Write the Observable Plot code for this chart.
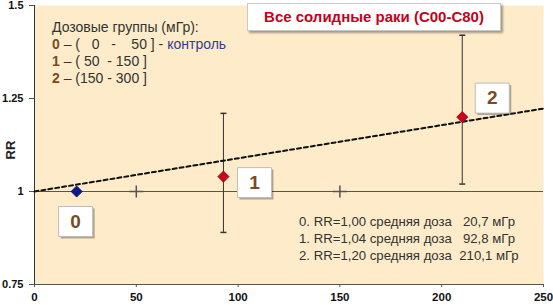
<!DOCTYPE html>
<html>
<head>
<meta charset="utf-8">
<script src="https://cdn.jsdelivr.net/npm/d3@7"></script>
<script src="https://cdn.jsdelivr.net/npm/@observablehq/plot@0.6"></script>
<style>
  html, body { margin: 0; padding: 0; background: #fff; }
  #wrap { position: relative; width: 553px; height: 305px; font-family: "Liberation Sans", Arial, sans-serif; }
  #wrap svg { position: absolute; left: 0; top: 0; }
  .ov { position: absolute; white-space: pre; }
  #legend { left: 52px; top: 19px; font-size: 14px; line-height: 17px; color: #333; }
  #legend b { color: #7A4B22; }
  #legend .blue { color: #2E3F8F; }
  #title { left: 247px; top: 3px; width: 252px; height: 26px; background: #fff; border: 1px solid #c8c8c8;
           box-shadow: 2px 2px 2px rgba(0,0,0,0.35); color: #C8001A; font-weight: bold; font-size: 15px;
           line-height: 26px; text-align: center; }
  #stats { left: 299px; top: 213px; font-size: 13.2px; line-height: 17px; color: #333; }
  #ylab { left: 10px; top: 150px; font-size: 13px; font-weight: bold; color: #222;
          transform: translate(-50%, -50%) rotate(-90deg); }
</style>
</head>
<body>
<div id="wrap"></div>
<script>
// ---- data ----
const groupLabels = ["0", "1", "2"];
const meanDose = [20.7, 92.8, 210.1];
const rrValues = [1.00, 1.04, 1.20];
const ciLow = [null, 0.89, 1.02];
const ciHigh = [null, 1.21, 1.42];
const trendDose = [0, 250];
const trendRR = [1.0, 1.223];
const crossDose = [50, 150];
const xTicks = [0, 50, 100, 150, 200, 250];
const yTicks = [0.75, 1, 1.25, 1.5];
const yTickLabels = ["0.75", "1", "1.25", "1.5"];
const legendTitle = "Дозовые группы (мГр):";
const legendRanges = ["(   0   -    50 ]", "( 50  - 150 ]", "(150 - 300 ]"];
const controlText = "контроль";
const chartTitle = "Все солидные раки (C00-C80)";
const statLines = [
  "0. RR=1,00 средняя доза   20,7 мГр",
  "1. RR=1,04 средняя доза   92,8 мГр",
  "2. RR=1,20 средняя доза  210,1 мГр"
];

const points = groupLabels.map((g, i) => ({g, x: meanDose[i], rr: rrValues[i], lo: ciLow[i], hi: ciHigh[i]}));
const bars = points.filter(d => d.lo != null);
const caps = bars.flatMap(d => [{x: d.x, y: d.lo}, {x: d.x, y: d.hi}]);
const trend = trendDose.map((x, i) => ({x, y: trendRR[i]}));

// custom symbols
const boxSym = {draw(ctx) { ctx.rect(-17, -15, 34, 30); }};
const capSym = {draw(ctx) { ctx.moveTo(-3, 0); ctx.lineTo(3, 0); }};
const vSym = {draw(ctx) { ctx.moveTo(0, -6); ctx.lineTo(0, 6); ctx.moveTo(-7, 0); ctx.lineTo(7, 0); }};

const boxOffsets = [[-1, 30], [31, 6], [30, -19]];
const labelMarks = points.flatMap((p, i) => [
  Plot.dot([p], {x: "x", y: "rr", symbol: boxSym, fill: "#000", fillOpacity: 0.3, stroke: null, dx: boxOffsets[i][0] + 2, dy: boxOffsets[i][1] + 2}),
  Plot.dot([p], {x: "x", y: "rr", symbol: boxSym, fill: "#fff", stroke: "#bdbdbd", strokeWidth: 1, dx: boxOffsets[i][0], dy: boxOffsets[i][1]}),
  Plot.text([p], {x: "x", y: "rr", text: "g", fill: "#7A4B22", fontSize: 19, fontWeight: "bold", dx: boxOffsets[i][0], dy: boxOffsets[i][1]})
]);

const chart = Plot.plot({
  width: 553, height: 305,
  marginLeft: 34, marginRight: 10, marginTop: 5, marginBottom: 21,
  style: {fontFamily: "Liberation Sans, Arial, sans-serif", fontSize: "11px", color: "#111", background: "transparent"},
  x: {domain: [0, 250]},
  y: {domain: [0.75, 1.5]},
  marks: [
    Plot.frame({fill: "#FDEBC9", stroke: null}),
    Plot.axisX({ticks: xTicks, tickSize: 3, tickPadding: 5, fontWeight: "bold", fontSize: 11.5, label: null, stroke: "#555"}),
    Plot.axisY({ticks: yTicks, tickFormat: (d) => yTickLabels[yTicks.indexOf(d)], tickSize: 5, tickPadding: 6, fontWeight: "bold", fontSize: 11, label: null, stroke: "#555"}),
    Plot.ruleX([0], {stroke: "#333"}),
    Plot.ruleY([0.75], {stroke: "#555"}),
    Plot.ruleY([1], {stroke: "#555", strokeWidth: 1}),
    Plot.dot(crossDose, {x: d => d, y: () => 1, symbol: vSym, stroke: "#555", r: 1}),
    Plot.ruleX(bars, {x: "x", y1: "lo", y2: "hi", stroke: "#333", strokeWidth: 1}),
    Plot.dot(caps, {x: "x", y: "y", symbol: capSym, stroke: "#333", r: 1}),
    Plot.line(trend, {x: "x", y: "y", stroke: "#111", strokeWidth: 2, strokeDasharray: "4,3"}),
    Plot.dot(points, {x: "x", y: "rr", symbol: "diamond2", r: 5, fill: (d, i) => i === 0 ? "#0A1A8C" : "#D0021B", stroke: (d, i) => i === 0 ? "#000060" : "#8A0010", strokeWidth: 0.8}),
    ...labelMarks
  ]
});

const wrap = document.getElementById("wrap");
wrap.appendChild(chart);

function ov(id, html) {
  const d = document.createElement("div");
  d.className = "ov"; d.id = id; d.innerHTML = html;
  wrap.appendChild(d);
}
ov("legend", legendTitle + "\n" +
  `<b>0</b> – ${legendRanges[0]} - <span class="blue">${controlText}</span>\n` +
  `<b>1</b> – ${legendRanges[1]}\n` +
  `<b>2</b> – ${legendRanges[2]}`);
ov("title", chartTitle);
ov("stats", statLines.join("\n"));
ov("ylab", "RR");
</script>
</body>
</html>
